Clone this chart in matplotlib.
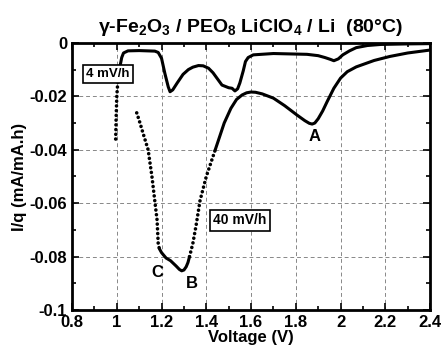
import matplotlib
matplotlib.use("Agg")
import matplotlib.pyplot as plt
from matplotlib.ticker import MultipleLocator

plt.rcParams['font.family'] = ['Liberation Sans', 'DejaVu Sans']
plt.rcParams['font.weight'] = 'bold'
plt.rcParams['axes.labelweight'] = 'bold'
plt.rcParams['axes.titleweight'] = 'bold'
plt.rcParams['mathtext.fontset'] = 'custom'
plt.rcParams['mathtext.rm'] = 'Liberation Sans:bold'
plt.rcParams['mathtext.it'] = 'Liberation Sans:bold:italic'
plt.rcParams['mathtext.bf'] = 'Liberation Sans:bold'

# ---- data: 4 mV/h sweep ----
v4_dot = [0.995, 0.997, 1.000, 1.005, 1.012]
i4_dot = [-0.036, -0.028, -0.020, -0.014, -0.010]
v4 = [1.012, 1.015, 1.022, 1.03, 1.05, 1.10, 1.17, 1.185, 1.20, 1.215, 1.23,
      1.238, 1.25, 1.27, 1.296, 1.32, 1.34, 1.365, 1.386, 1.41, 1.43, 1.45,
      1.47, 1.50, 1.515, 1.528, 1.54, 1.55, 1.565, 1.575, 1.587, 1.61,
      1.70, 1.85, 1.90, 1.93, 1.955, 1.97, 1.99, 2.01, 2.04, 2.07, 2.12,
      2.18, 2.30, 2.40]
i4 = [-0.010, -0.0085, -0.0055, -0.0038, -0.0030, -0.0029, -0.0031, -0.0036,
      -0.0058, -0.0115, -0.0165, -0.0183, -0.0176, -0.0150, -0.0118, -0.0100,
      -0.0091, -0.0085, -0.0086, -0.0095, -0.0112, -0.0135, -0.0158, -0.0168,
      -0.0170, -0.0180, -0.0172, -0.0150, -0.0105, -0.0070, -0.0055, -0.0045,
      -0.0040, -0.0043, -0.0048, -0.0055, -0.0062, -0.0067, -0.0060, -0.0045,
      -0.0030, -0.0018, -0.0010, -0.0006, -0.0004, -0.0003]

# ---- data: 40 mV/h sweep ----
v40_dot_a = [1.089, 1.10, 1.118, 1.14, 1.157, 1.171, 1.180, 1.185, 1.19]
i40_dot_a = [-0.0262, -0.029, -0.034, -0.040, -0.050, -0.060, -0.0663, -0.075, -0.077]
v40_mid = [1.19, 1.20, 1.22, 1.24, 1.265, 1.28, 1.29, 1.30, 1.31, 1.318, 1.325]
i40_mid = [-0.077, -0.0785, -0.0805, -0.0815, -0.0835, -0.0848, -0.0853,
           -0.0850, -0.0838, -0.0822, -0.0800]
v40_dot_b = [1.325, 1.34, 1.355, 1.372, 1.40, 1.44]
i40_dot_b = [-0.080, -0.075, -0.068, -0.059, -0.050, -0.040]
v40 = [1.44, 1.48, 1.51, 1.535, 1.56, 1.58, 1.60, 1.62, 1.65, 1.70, 1.75,
       1.805, 1.84, 1.86, 1.873, 1.885, 1.90, 1.92, 1.94, 1.97, 2.00, 2.03,
       2.07, 2.15, 2.22, 2.30, 2.40]
i40 = [-0.040, -0.030, -0.0245, -0.0212, -0.0195, -0.0187, -0.0184, -0.0185,
       -0.0191, -0.0207, -0.0235, -0.0270, -0.0291, -0.0301, -0.0304, -0.0300,
       -0.0284, -0.0255, -0.0220, -0.0170, -0.0132, -0.0108, -0.0090, -0.0066,
       -0.0051, -0.0038, -0.0027]

xticks = [0.8, 1.0, 1.2, 1.4, 1.6, 1.8, 2.0, 2.2, 2.4]
xtick_labels = ['0.8', '1', '1.2', '1.4', '1.6', '1.8', '2', '2.2', '2.4']
yticks = [0, -0.02, -0.04, -0.06, -0.08, -0.1]
ytick_labels = ['0', '-0.02', '-0.04', '-0.06', '-0.08', '-0.1']

fig = plt.figure(figsize=(4.42, 3.54), dpi=100)
ax = fig.add_axes([0.163, 0.124, 0.810, 0.755])

dot_style = dict(color='black', linewidth=2.6, linestyle=(0, (0.01, 1.3)),
                 dash_capstyle='round', solid_capstyle='round')
line_style = dict(color='black', linewidth=2.2, solid_capstyle='round',
                  solid_joinstyle='round')

ax.plot(v4_dot, i4_dot, **dot_style)
ax.plot(v4, i4, **line_style)
ax.plot(v40_dot_a, i40_dot_a, **dot_style)
ax.plot(v40_mid, i40_mid, **line_style)
ax.plot(v40_dot_b, i40_dot_b, **dot_style)
ax.plot(v40, i40, **line_style)

ax.set_xlim(0.8, 2.4)
ax.set_ylim(-0.1, 0)
ax.set_xticks(xticks)
ax.set_xticklabels(xtick_labels)
ax.set_yticks(yticks)
ax.set_yticklabels(ytick_labels)
ax.xaxis.set_minor_locator(MultipleLocator(0.1))
ax.yaxis.set_minor_locator(MultipleLocator(0.01))
ax.tick_params(which='both', direction='in', top=True, right=True,
               labelsize=12, width=1.2)
ax.tick_params(which='major', length=5)
ax.tick_params(which='minor', length=3)
ax.grid(True, which='major', color='#888888', linestyle=(0, (4, 3)), linewidth=0.7)
for s in ax.spines.values():
    s.set_linewidth(2)

ax.set_xlabel('Voltage (V)', fontsize=12, fontweight='bold', labelpad=0)
ax.set_ylabel('I/q (mA/mA.h)', fontsize=12, fontweight='bold', labelpad=2)
ax.set_title('γ-Fe$_2$O$_3$ / PEO$_8$ LiClO$_4$ / Li  (80°C)', fontsize=14,
             fontweight='bold', pad=8)

box = dict(boxstyle='square,pad=0.25', facecolor='white', edgecolor='black', linewidth=1.2)
ax.text(0.96, -0.0116, '4 mV/h', fontsize=9.5, ha='center', va='center', bbox=box)
ax.text(1.55, -0.0663, '40 mV/h', fontsize=10, ha='center', va='center', bbox=box)
ax.text(1.886, -0.0352, 'A', fontsize=12, ha='center', va='center')
ax.text(1.18, -0.0858, 'C', fontsize=12, ha='center', va='center')
ax.text(1.336, -0.090, 'B', fontsize=12, ha='center', va='center')

fig.savefig('out.png', dpi=100)
